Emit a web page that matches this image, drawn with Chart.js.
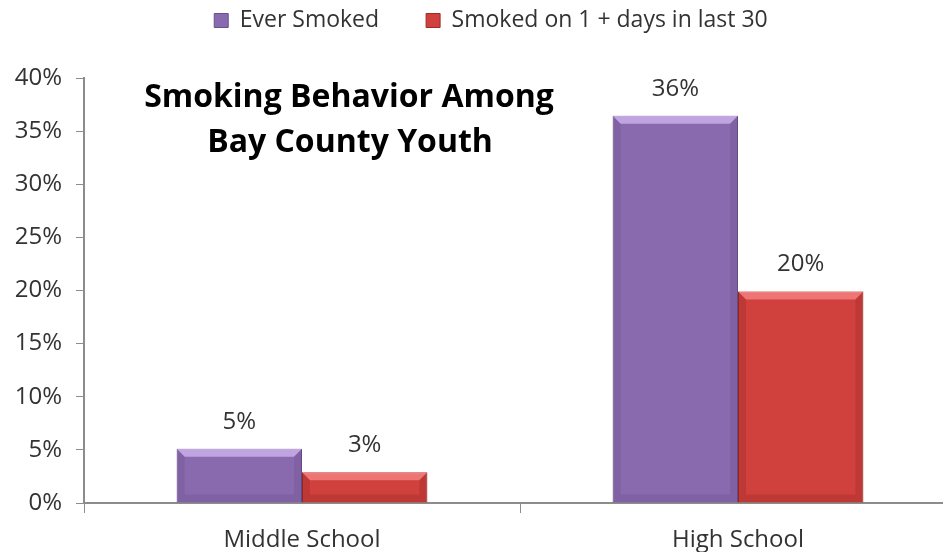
<!DOCTYPE html>
<html>
<head>
<meta charset="utf-8">
<script src="https://cdn.jsdelivr.net/npm/chart.js@4"></script>
<style>
  html, body { margin: 0; padding: 0; background: #fff; overflow: hidden; }
  #wrap { width: 956px; height: 552px; }
</style>
</head>
<body>
<div id="wrap"><canvas id="myChart"></canvas></div>
<script>
'use strict';

let categories = ['Middle School', 'High School'];
let everSmoked = [5.1, 36.45];
let smokedLast30 = [2.9, 19.9];
let seriesNames = ['Ever Smoked', 'Smoked on 1 + days in last 30'];
let titleLines = ['Smoking Behavior Among', 'Bay County Youth'];

let fontFamily = '"Open Sans", "DejaVu Sans", sans-serif';
let textColor = '#333';
let axisColor = '#8c8c8c';
let fills = ['#8a6aae', '#d0403d'];
let lights = ['rgba(215,190,245,0.7)', 'rgba(250,140,140,0.7)'];
let darks = ['rgba(60,40,90,0.13)', 'rgba(90,15,15,0.15)'];

// bevel look on each bar, using the bar element geometry
let bevel = {
    id: 'bevel',
    afterDatasetsDraw(chart) {
        let ctx = chart.ctx;
        ctx.save();
        chart.data.datasets.forEach((ds, i) => {
            chart.getDatasetMeta(i).data.forEach(bar => {
                let l = bar.x - bar.width / 2, r = bar.x + bar.width / 2;
                let t = bar.y, b = bar.base;
                let d = Math.min(8, (b - t) / 2);
                // top
                ctx.fillStyle = lights[i];
                ctx.beginPath();
                ctx.moveTo(l, t); ctx.lineTo(r, t); ctx.lineTo(r - d, t + d); ctx.lineTo(l + d, t + d);
                ctx.closePath(); ctx.fill();
                // sides
                ctx.fillStyle = darks[i];
                ctx.beginPath();
                ctx.moveTo(l, t); ctx.lineTo(l + d, t + d); ctx.lineTo(l + d, b - d); ctx.lineTo(l, b);
                ctx.closePath(); ctx.fill();
                ctx.beginPath();
                ctx.moveTo(r, t); ctx.lineTo(r - d, t + d); ctx.lineTo(r - d, b - d); ctx.lineTo(r, b);
                ctx.closePath(); ctx.fill();
                // bottom
                ctx.beginPath();
                ctx.moveTo(l, b); ctx.lineTo(l + d, b - d); ctx.lineTo(r - d, b - d); ctx.lineTo(r, b);
                ctx.closePath(); ctx.fill();
            });
        });
        ctx.restore();
    }
};

// bar value labels above each bar
let valueLabels = {
    id: 'valueLabels',
    afterDatasetsDraw(chart) {
        let ctx = chart.ctx;
        ctx.save();
        ctx.font = '24px ' + fontFamily;
        ctx.fillStyle = textColor;
        ctx.textAlign = 'center';
        ctx.textBaseline = 'middle';
        chart.data.datasets.forEach((ds, i) => {
            chart.getDatasetMeta(i).data.forEach((bar, j) => {
                ctx.fillText(Math.round(ds.data[j]) + '%', bar.x, bar.y - 27);
            });
        });
        ctx.restore();
    }
};

// title drawn inside the plot area
let insideTitle = {
    id: 'insideTitle',
    afterDraw(chart) {
        let ctx = chart.ctx;
        ctx.save();
        ctx.font = 'bold 32px ' + fontFamily;
        ctx.fillStyle = '#000';
        ctx.textAlign = 'center';
        ctx.textBaseline = 'middle';
        ctx.fillText(titleLines[0], 349, 98);
        ctx.fillText(titleLines[1], 350, 143);
        ctx.restore();
    }
};

// fix legend height so plot top lines up, then nudge the legend
let legendPad = 47;
let legendFix = {
    id: 'legendFix',
    beforeLayout(chart) {
        let lg = chart.legend;
        if (lg && !lg._patched) {
            let fit = lg.fit;
            lg.fit = function () {
                fit.call(this);
                this.height = 78;
            };
            lg._patched = true;
        }
    },
    afterLayout(chart) {
        let lg = chart.legend;
        lg.top = 9 - legendPad;
        lg.left += 13;
        lg.right += 13;
    }
};

let ctx = document.getElementById('myChart').getContext('2d');
new Chart(ctx, {
    type: 'bar',
    data: {
        labels: categories,
        datasets: [{
            label: seriesNames[0],
            data: everSmoked,
            backgroundColor: fills[0],
            borderColor: '#6a4f8c',
            borderWidth: 1
        },
        {
            label: seriesNames[1],
            data: smokedLast30,
            backgroundColor: fills[1],
            borderColor: '#9c2c2a',
            borderWidth: 1
        }]
    },
    options: {
        responsive: true,
        maintainAspectRatio: false,
        animation: false,
        layout: { padding: 0 },
        datasets: {
            bar: { categoryPercentage: 0.575, barPercentage: 1 }
        },
        plugins: {
            legend: {
                position: 'top',
                labels: {
                    font: { family: fontFamily, size: 23 },
                    color: textColor,
                    boxWidth: 14,
                    boxHeight: 14,
                    padding: legendPad
                }
            },
            tooltip: { enabled: false },
            title: { display: false }
        },
        scales: {
            x: {
                grid: {
                    offset: true,
                    drawOnChartArea: false,
                    tickLength: 10,
                    color: axisColor
                },
                border: { color: axisColor, width: 2 },
                ticks: {
                    font: { family: fontFamily, size: 24 },
                    color: textColor,
                    padding: 13
                },
                afterFit(scale) { scale.height = 49; }
            },
            y: {
                min: 0,
                max: 40,
                grid: {
                    drawOnChartArea: false,
                    tickLength: 8,
                    color: axisColor
                },
                border: { color: axisColor, width: 2 },
                ticks: {
                    stepSize: 5,
                    font: { family: fontFamily, size: 24 },
                    color: textColor,
                    padding: 14,
                    callback: v => v + '%'
                },
                afterFit(scale) { scale.width = 84; }
            }
        }
    },
    plugins: [bevel, valueLabels, insideTitle, legendFix]
});
</script>
</body>
</html>
